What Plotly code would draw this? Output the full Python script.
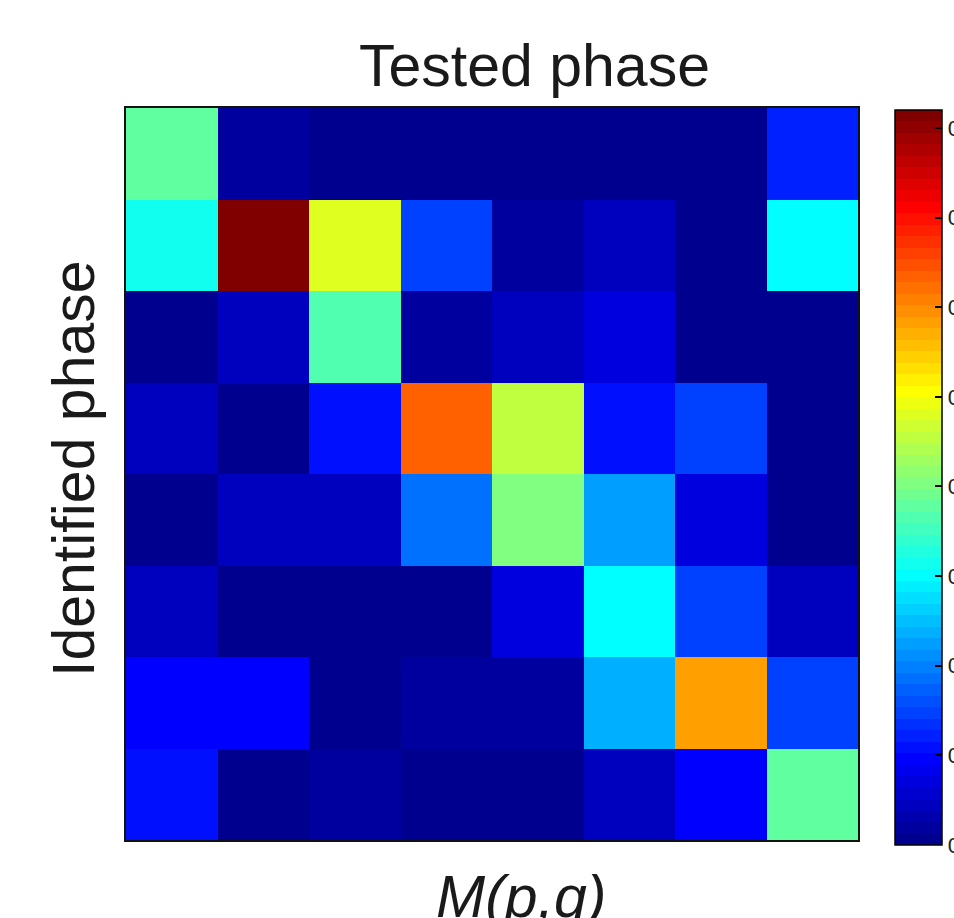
import numpy as np
import plotly.graph_objects as go

# Confusion-style matrix: rows = identified phase (top to bottom), cols = tested phase
row_labels = ["1", "2", "3", "4", "5", "6", "7", "8"]
col_labels = ["1", "2", "3", "4", "5", "6", "7", "8"]

row1 = [0.380, 0.020, 0.005, 0.005, 0.005, 0.004, 0.004, 0.128]
row2 = [0.320, 0.820, 0.475, 0.141, 0.013, 0.039, 0.003, 0.307]
row3 = [0.010, 0.048, 0.371, 0.020, 0.045, 0.065, 0.003, 0.010]
row4 = [0.045, 0.003, 0.103, 0.640, 0.458, 0.105, 0.141, 0.010]
row5 = [0.008, 0.045, 0.045, 0.182, 0.400, 0.225, 0.065, 0.003]
row6 = [0.045, 0.001, 0.001, 0.001, 0.065, 0.307, 0.141, 0.039]
row7 = [0.090, 0.090, 0.008, 0.025, 0.025, 0.243, 0.580, 0.141]
row8 = [0.103, 0.001, 0.018, 0.003, 0.001, 0.050, 0.090, 0.380]

z = [row1, row2, row3, row4, row5, row6, row7, row8]

cbar_ticks = [0, 0.1, 0.2, 0.3, 0.4, 0.5, 0.6, 0.7, 0.8]
cbar_ticktext = ["0", "0.1", "0.2", "0.3", "0.4", "0.5", "0.6", "0.7", "0.8"]
ZMIN, ZMAX = 0.0, 0.82


def matlab_jet(m=64):
    n = int(np.ceil(m / 4))
    u = np.concatenate([np.arange(1, n + 1) / n, np.ones(n - 1), np.arange(n, 0, -1) / n])
    g = int(np.ceil(n / 2)) - (1 if m % 4 == 1 else 0) + np.arange(1, len(u) + 1)
    r = g + n
    b = g - n
    J = np.zeros((m, 3))
    mr = r <= m
    J[r[mr] - 1, 0] = u[mr]
    J[g - 1, 1] = u
    mb = b >= 1
    J[b[mb] - 1, 2] = u[mb]
    return J


J = matlab_jet(64)
colorscale = []
for i, c in enumerate(J):
    col = "rgb(%d,%d,%d)" % tuple(int(round(v * 255)) for v in c)
    colorscale.append([i / 64, col])
    colorscale.append([(i + 1) / 64, col])

FONT = "Liberation Sans, Arial, sans-serif"
L, T, W, H = 126, 108, 732, 732  # plot area in pixels
CB_X, CB_BOTTOM, CB_LEN, CB_THICK = 895, 845, 735, 47

fig = go.Figure(
    go.Heatmap(
        z=z,
        x=col_labels,
        y=row_labels,
        zmin=ZMIN,
        zmax=ZMAX,
        colorscale=colorscale,
        colorbar=dict(
            x=(CB_X - L) / W,
            xanchor="left",
            xpad=0,
            y=(T + H - (CB_BOTTOM - CB_LEN / 2)) / H,
            yanchor="middle",
            ypad=0,
            len=CB_LEN,
            lenmode="pixels",
            thickness=CB_THICK,
            thicknessmode="pixels",
            outlinecolor="black",
            outlinewidth=1.5,
            tickvals=cbar_ticks,
            ticktext=cbar_ticktext,
            ticks="inside",
            ticklen=7,
            tickwidth=1.5,
            tickcolor="black",
            tickfont=dict(family=FONT, size=22, color="#222"),
        ),
        hoverongaps=False,
    )
)

fig.update_xaxes(
    showticklabels=False, ticks="", showgrid=False, zeroline=False,
    showline=True, linecolor="#111", linewidth=2, mirror=True,
)
fig.update_yaxes(
    showticklabels=False, ticks="", showgrid=False, zeroline=False,
    showline=True, linecolor="#111", linewidth=2, mirror=True,
    autorange="reversed",
)

fig.update_layout(
    width=954,
    height=918,
    margin=dict(l=L, r=954 - L - W, t=T, b=918 - T - H, autoexpand=False),
    paper_bgcolor="white",
    plot_bgcolor="white",
    font=dict(family=FONT, color="#1a1a1a"),
    annotations=[
        dict(text="Tested phase", xref="paper", yref="paper",
             x=(534 - L) / W, y=(T + H - 66) / H,
             xanchor="center", yanchor="middle", showarrow=False,
             font=dict(size=59, family=FONT, color="#1a1a1a")),
        dict(text="Identified phase", xref="paper", yref="paper",
             x=(74 - L) / W, y=(T + H - 469) / H, textangle=-90,
             xanchor="center", yanchor="middle", showarrow=False,
             font=dict(size=59, family=FONT, color="#1a1a1a")),
        dict(text="<i>M(p,q)</i>", xref="paper", yref="paper",
             x=(521 - L) / W, y=(T + H - 897) / H,
             xanchor="center", yanchor="middle", showarrow=False,
             font=dict(size=59, family=FONT, color="#1a1a1a")),
    ],
)

fig.write_html(
    "out.html",
    config={"displayModeBar": False},
    post_script="document.body.style.margin='0';document.body.style.overflow='hidden';",
)
